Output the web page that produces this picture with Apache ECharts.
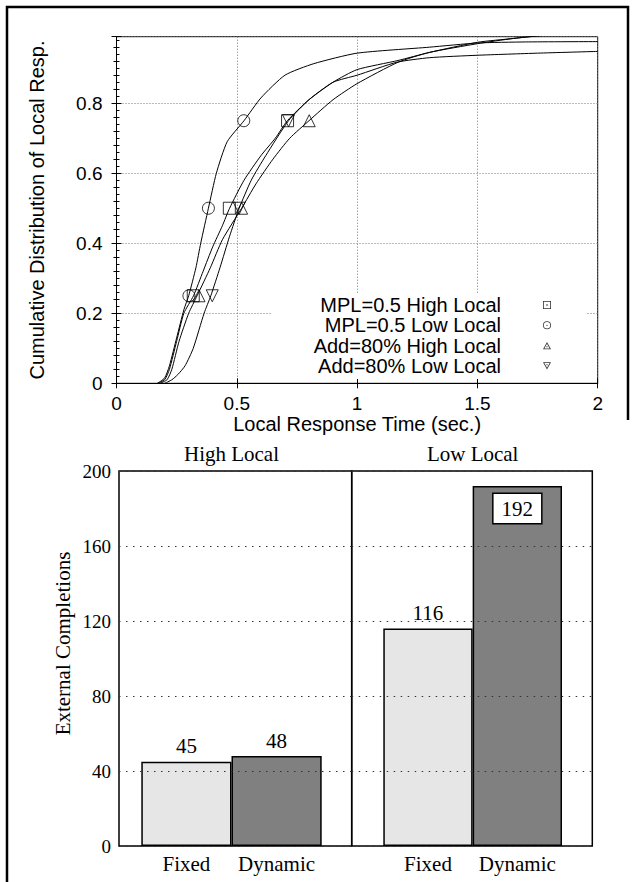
<!DOCTYPE html>
<html>
<head>
<meta charset="utf-8">
<script src="https://cdn.jsdelivr.net/npm/echarts@6/dist/echarts.min.js"></script>
<style>
  html, body { margin: 0; padding: 0; background: #fff; }
  #chart { width: 635px; height: 882px; }
</style>
</head>
<body>
<div id="chart"></div>
<script>
// --- top panel: cumulative distributions, [seconds, fraction] ---
const mplHighCurve = [[0.17,0],[0.2,0.01],[0.22,0.04],[0.25,0.12],[0.28,0.2],[0.32,0.25],[0.36,0.32],[0.40,0.39],[0.44,0.45],[0.47,0.5],[0.53,0.58],[0.6,0.65],[0.66,0.7],[0.71,0.75],[0.8,0.81],[0.9,0.86],[1.0,0.896],[1.17,0.922],[1.3,0.945],[1.5,0.974],[1.65,0.985],[1.76,0.993],[2,1.0]];
const mplLowCurve = [[0.17,0],[0.2,0.015],[0.22,0.05],[0.25,0.13],[0.28,0.21],[0.30,0.25],[0.33,0.33],[0.35,0.4],[0.382,0.5],[0.415,0.6],[0.46,0.69],[0.53,0.75],[0.6,0.815],[0.7,0.88],[0.82,0.913],[1.0,0.943],[1.3,0.96],[1.5,0.972],[1.7,0.975],[2,0.976]];
const addHighCurve = [[0.18,0],[0.21,0.01],[0.23,0.04],[0.26,0.12],[0.3,0.2],[0.335,0.25],[0.39,0.33],[0.44,0.41],[0.52,0.5],[0.58,0.57],[0.65,0.64],[0.72,0.7],[0.8,0.75],[0.9,0.81],[1.0,0.856],[1.17,0.917],[1.3,0.945],[1.5,0.97],[1.65,0.985],[1.8,0.995],[2,1.0]];
const addLowCurve = [[0.2,0],[0.23,0.01],[0.255,0.025],[0.285,0.05],[0.319,0.1],[0.364,0.2],[0.392,0.25],[0.43,0.33],[0.47,0.42],[0.51,0.5],[0.56,0.58],[0.62,0.65],[0.715,0.75],[0.8,0.81],[0.9,0.86],[1.0,0.88],[1.165,0.917],[1.3,0.93],[1.5,0.937],[1.75,0.943],[2,0.948]];

// quartile markers
const mplHighMarks = [[0.319,0.25],[0.469,0.5],[0.711,0.75]];
const mplLowMarks = [[0.301,0.25],[0.382,0.5],[0.529,0.75]];
const addHighMarks = [[0.343,0.25],[0.52,0.5],[0.801,0.75]];
const addLowMarks = [[0.398,0.25],[0.51,0.5],[0.715,0.75]];

const cdfNames = ['MPL=0.5 High Local', 'MPL=0.5 Low Local', 'Add=80% High Local', 'Add=80% Low Local'];

// --- bottom panel: external completions ---
const groups = ['High Local', 'Low Local'];
const policies = ['Fixed', 'Dynamic'];
const highLocalCompletions = [45, 48];
const lowLocalCompletions = [116, 192];

const sans = 'Liberation Sans';
const serif = 'Liberation Serif';

const curves = [mplHighCurve, mplLowCurve, addHighCurve, addLowCurve];
const marks = [mplHighMarks, mplLowMarks, addHighMarks, addLowMarks];
const markSymbols = ['rect', 'circle', 'triangle', 'triangle'];
const markRotate = [0, 0, 0, 180];
const legendIcons = [
  'path://M0,0H10V10H0ZM1,1V9H9V1ZM4.2,4.2H5.8V5.8H4.2Z',
  'path://M5,0A5,5,0,1,1,5,10A5,5,0,1,1,5,0ZM5,1A4,4,0,1,0,5,9A4,4,0,1,0,5,1ZM5,4.2A0.8,0.8,0,1,1,5,5.8A0.8,0.8,0,1,1,5,4.2Z',
  'path://M5,0L10,9L0,9ZM5,2.2L1.7,8.1L8.3,8.1ZM4.3,5.3H5.7V6.7H4.3Z',
  'path://M0,0H10L5,9ZM1.7,0.9L5,6.8L8.3,0.9ZM4.3,2.3H5.7V3.7H4.3Z'
];
const barColors = ['#e6e6e6', '#808080'];

const chart = echarts.init(document.getElementById('chart'), null, {renderer: 'svg'});

const dotted = {type: [1, 2], color: '#777', width: 1};
const barDotted = {type: [1.5, 5.5], color: '#333', width: 1.2};

function barData(values, gi) {
  return values.map((v, i) => {
    const item = {value: v, itemStyle: {color: barColors[i]}};
    if (gi === 1 && i === 1) {
      item.label = {
        position: 'insideTop', distance: 8, backgroundColor: '#fff',
        borderColor: '#000', borderWidth: 1.5, padding: [4, 8, 3, 8], lineHeight: 22
      };
    }
    return item;
  });
}

const series = [];
curves.forEach((c, i) => {
  series.push({
    type: 'line', name: cdfNames[i] + ' curve', xAxisIndex: 0, yAxisIndex: 0,
    data: c, showSymbol: false, smooth: 0.2, clip: true,
    lineStyle: {color: '#000', width: 1}, silent: true, z: 2
  });
});
marks.forEach((m, i) => {
  series.push({
    type: 'scatter', name: cdfNames[i], xAxisIndex: 0, yAxisIndex: 0,
    data: m, symbol: markSymbols[i], symbolRotate: markRotate[i], symbolSize: 12,
    itemStyle: {color: 'rgba(0,0,0,0)', borderColor: '#000', borderWidth: 1}, z: 3
  });
});
[highLocalCompletions, lowLocalCompletions].forEach((vals, gi) => {
  series.push({
    type: 'bar', name: groups[gi], xAxisIndex: 4 + gi * 2, yAxisIndex: 4 + gi,
    data: barData(vals, gi), barCategoryGap: '0%',
    itemStyle: {borderColor: '#000', borderWidth: 1.5},
    label: {show: true, position: 'top', distance: 5, color: '#000', fontFamily: serif, fontSize: 21},
    z: 2
  });
});

const hiddenValueX = (gi) => ({type: 'value', gridIndex: gi, show: false, min: 0, max: 1});
const barValueY = (gi) => ({type: 'value', gridIndex: gi, show: false, min: 0, max: 200});
const categoryAxis = (gi, data, position) => ({
  type: 'category', gridIndex: gi, data: data, position: position,
  axisLine: {show: false}, axisTick: {show: false},
  axisLabel: {interval: 0, fontFamily: serif, fontSize: 21, color: '#000', margin: 7}
});

chart.setOption({
  animation: false,
  backgroundColor: '#fff',
  textStyle: {fontFamily: sans, color: '#000'},
  graphic: [{
    type: 'polyline', silent: true,
    shape: {points: [[7, 900], [7, 7], [628, 7], [628, 420]]},
    style: {stroke: '#000', lineWidth: 2.5, fill: null}
  }],
  legend: {
    data: cdfNames.map((n, i) => ({name: n, icon: legendIcons[i]})),
    orient: 'vertical', align: 'right', right: 48, top: 293,
    itemWidth: 8, itemHeight: 8, itemGap: 0.3,
    padding: [2, 36, 3, 42], backgroundColor: '#fff',
    itemStyle: {color: '#000', borderWidth: 0},
    textStyle: {fontFamily: sans, fontSize: 20, color: '#000', lineHeight: 20, padding: [0, 37, 0, 0]},
    selectedMode: false
  },
  grid: [
    {left: 116.5, right: 37.3, top: 36.7, height: 346.6, show: true, borderColor: '#000', borderWidth: 1, backgroundColor: 'transparent'},
    {left: 119, width: 232.7, top: 471, height: 375, show: true, borderColor: '#000', borderWidth: 1.5, backgroundColor: 'transparent'},
    {left: 351.7, width: 240.6, top: 471, height: 375, show: true, borderColor: '#000', borderWidth: 1.5, backgroundColor: 'transparent'},
    {left: 141.3, width: 180.4, top: 471, height: 375},
    {left: 383.3, width: 178.7, top: 471, height: 375}
  ],
  xAxis: [
    {
      type: 'value', gridIndex: 0, min: 0, max: 2, interval: 0.5,
      axisLine: {lineStyle: {color: '#000'}},
      axisTick: {inside: true, length: 5, lineStyle: {color: '#000'}},
      axisLabel: {fontFamily: sans, fontSize: 19, color: '#000', margin: 11},
      splitLine: {show: true, lineStyle: dotted},
      name: 'Local Response Time (sec.)', nameLocation: 'middle', nameGap: 30,
      nameTextStyle: {fontFamily: sans, fontSize: 20, color: '#000', verticalAlign: 'top'}
    },
    {
      type: 'value', gridIndex: 0, position: 'top', min: 0, max: 2, interval: 0.5,
      axisLine: {lineStyle: {color: '#000'}},
      axisTick: {inside: true, length: 5, lineStyle: {color: '#000'}},
      axisLabel: {show: false}, splitLine: {show: false}
    },
    hiddenValueX(1),
    hiddenValueX(2),
    categoryAxis(3, policies, 'bottom'),
    categoryAxis(3, [groups[0]], 'top'),
    categoryAxis(4, policies, 'bottom'),
    categoryAxis(4, [groups[1]], 'top')
  ],
  yAxis: [
    {
      type: 'value', gridIndex: 0, min: 0, max: 0.99, interval: 0.2,
      axisLine: {lineStyle: {color: '#000'}},
      axisTick: {inside: true, length: 5, lineStyle: {color: '#000'}},
      minorTick: {show: true, splitNumber: 10, length: 3, lineStyle: {color: '#000'}},
      axisLabel: {fontFamily: sans, fontSize: 19, color: '#000', margin: 14, showMaxLabel: false},
      splitLine: {show: true, lineStyle: dotted},
      name: 'Cumulative Distribution of Local Resp.', nameLocation: 'middle', nameGap: 70,
      nameTextStyle: {fontFamily: sans, fontSize: 20, color: '#000'}
    },
    {
      type: 'value', gridIndex: 0, position: 'right', min: 0, max: 0.99, interval: 0.2,
      axisLine: {lineStyle: {color: '#000'}},
      axisTick: {inside: true, length: 5, lineStyle: {color: '#000'}},
      minorTick: {show: true, splitNumber: 5, length: 3, lineStyle: {color: '#000'}},
      axisLabel: {show: false}, splitLine: {show: false}
    },
    {
      type: 'value', gridIndex: 1, min: 0, max: 200, interval: 40, z: 5,
      axisLine: {show: false}, axisTick: {show: false},
      axisLabel: {fontFamily: serif, fontSize: 19, color: '#000', margin: 8},
      splitLine: {show: true, lineStyle: barDotted},
      name: 'External Completions', nameLocation: 'middle', nameGap: 46,
      nameTextStyle: {fontFamily: serif, fontSize: 21, color: '#000', padding: [0, 0, 0, 30]}
    },
    {
      type: 'value', gridIndex: 2, min: 0, max: 200, interval: 40, z: 5,
      axisLine: {show: false}, axisTick: {show: false},
      axisLabel: {show: false},
      splitLine: {show: true, lineStyle: barDotted}
    },
    barValueY(3),
    barValueY(4)
  ],
  series: series
});
</script>
</body>
</html>
